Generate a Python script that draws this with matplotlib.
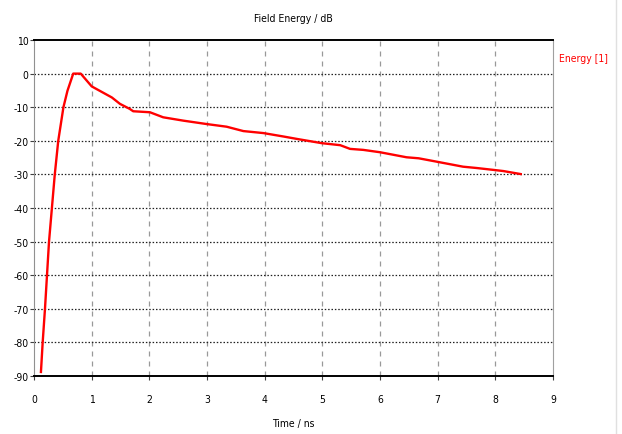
import matplotlib.pyplot as plt
from matplotlib.lines import Line2D

# curve (time in ns, energy in dB)
time_ns = [0.12, 0.15, 0.19, 0.225, 0.26, 0.31, 0.36, 0.42, 0.51, 0.58, 0.68, 0.81,
           1.0, 1.35, 1.49, 1.66, 1.72, 2.01, 2.24, 2.59, 2.99, 3.34, 3.63, 3.98,
           4.32, 4.58, 4.99, 5.31, 5.48, 5.71, 6.0, 6.46, 6.67, 6.98, 7.44, 7.68,
           7.99, 8.14, 8.44]
energy_db = [-88.8, -80, -70, -60, -50, -40, -30, -20, -10, -5.1, 0.0, 0.0,
             -3.8, -7.1, -9.0, -10.5, -11.2, -11.5, -13.0, -14.0, -15.0, -15.8, -17.1, -17.7,
             -18.7, -19.5, -20.7, -21.3, -22.4, -22.7, -23.4, -24.9, -25.2, -26.2, -27.7, -28.1,
             -28.7, -29.0, -29.9]
xticks = list(range(0, 10))
yticks = list(range(-90, 11, 10))

plt.rcParams['font.family'] = ['DejaVu Sans']
plt.rcParams['font.stretch'] = 'condensed'
plt.rcParams['axes.unicode_minus'] = False

fig = plt.figure(figsize=(6.22, 4.35), dpi=100)
ax = fig.add_axes([0.0547, 0.1333, 0.8344, 0.7724])

ax.plot(time_ns, energy_db, color='#ff0000', linewidth=1.7, solid_joinstyle='round')

ax.set_xlim(0, 9)
ax.set_ylim(-90, 10)
ax.set_xticks(xticks)
ax.set_yticks(yticks)
ax.tick_params(labelsize=7.5, length=3, width=0.8, color='#404040')
ax.tick_params(axis='x', pad=10)
ax.tick_params(axis='y', pad=1)

# vertical grid dashed gray, horizontal grid dotted black
for t in xticks[1:-1]:
    ax.axvline(t, color='#999999', linestyle=(0, (4, 4)), linewidth=0.9, zorder=0)
for v in yticks[1:-1]:
    ax.axhline(v, color='#202020', linestyle=(0, (1.2, 1.5)), linewidth=0.9, zorder=0)

ax.spines['top'].set_color('black')
ax.spines['top'].set_linewidth(1.4)
ax.spines['bottom'].set_color('black')
ax.spines['bottom'].set_linewidth(1.4)
ax.spines['left'].set_color('#909090')
ax.spines['right'].set_color('#a0a0a0')

ax.set_title('Field Energy / dB', fontsize=7.5, pad=14)
ax.set_xlabel('Time / ns', fontsize=7.5, labelpad=10)
fig.text(0.898, 0.864, 'Energy [1]', color='#ff0000', fontsize=7.5, ha='left', va='center')

# faint window border on the right
fig.add_artist(Line2D([0.991, 0.991], [0, 1], color='#e0e0e0', linewidth=1))

fig.savefig('out.png', dpi=100)
